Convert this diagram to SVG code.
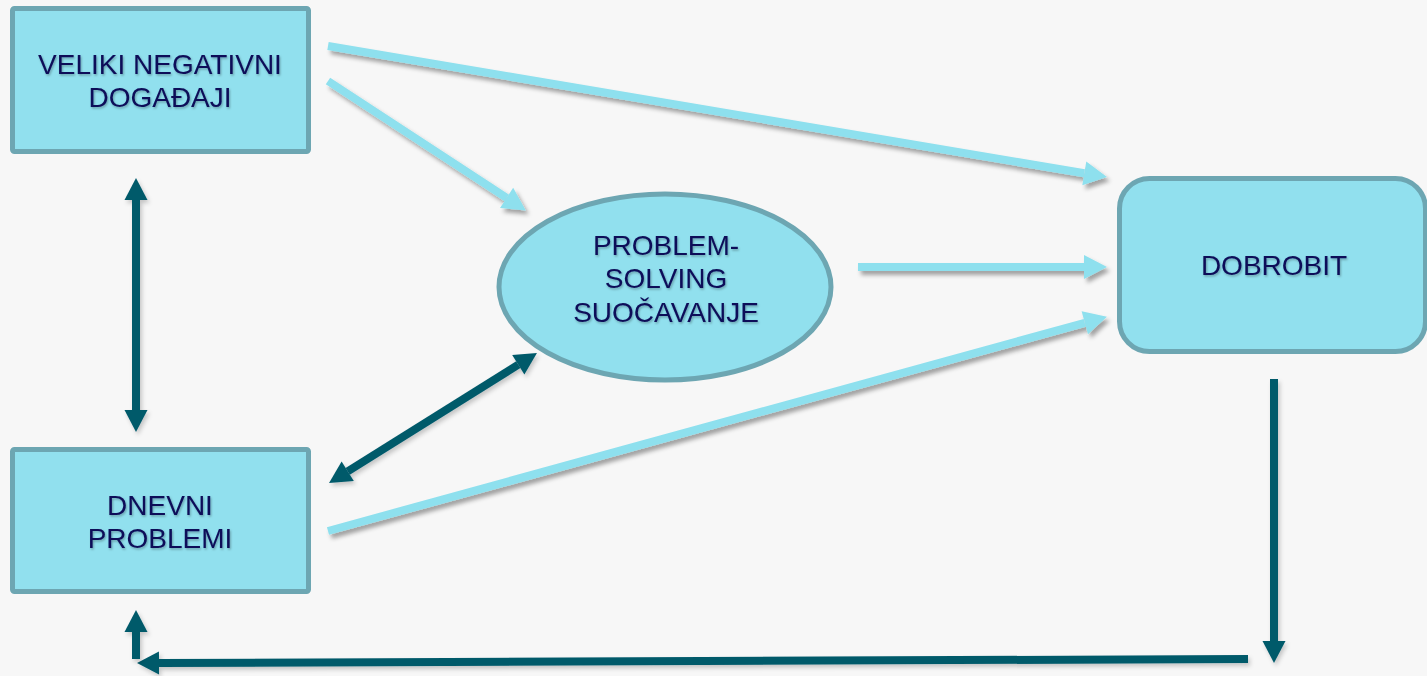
<svg xmlns="http://www.w3.org/2000/svg" width="1427" height="676" viewBox="0 0 1427 676">
<style>
.node{fill:#91E0EE;stroke:#6DA6B2;stroke-width:5}
.lbl{font-family:"Liberation Sans",Arial,sans-serif;font-size:28px;fill:#0B0B58;text-anchor:middle;filter:url(#tsh)}
.light{stroke:#8EE0EE;stroke-width:8;fill:none;filter:url(#sh);marker-end:url(#ahL)}
.dark{stroke:#025A6B;stroke-width:8;fill:none;filter:url(#shd)}
</style>
<defs>
<filter id="sh" filterUnits="userSpaceOnUse" x="0" y="0" width="1427" height="676">
<feDropShadow dx="3" dy="4" stdDeviation="2" flood-color="#000" flood-opacity="0.35"/>
</filter>
<filter id="shd" filterUnits="userSpaceOnUse" x="0" y="0" width="1427" height="676">
<feDropShadow dx="2" dy="3" stdDeviation="2" flood-color="#000" flood-opacity="0.2"/>
</filter>
<filter id="tsh" filterUnits="userSpaceOnUse" x="0" y="0" width="1427" height="676">
<feDropShadow dx="1" dy="1.5" stdDeviation="1" flood-color="#000" flood-opacity="0.3"/>
</filter>
<marker id="ahL" markerUnits="userSpaceOnUse" markerWidth="24" markerHeight="24" refX="0" refY="12" orient="auto" overflow="visible">
<path d="M0,0 L23,12 L0,24 z" fill="#8EE0EE"/>
</marker>
<marker id="ahD" markerUnits="userSpaceOnUse" markerWidth="24" markerHeight="24" refX="0" refY="12" orient="auto-start-reverse" overflow="visible">
<path d="M0,0.5 L22,12 L0,23.5 z" fill="#025A6B"/>
</marker>
</defs>
<rect width="1427" height="676" fill="#F7F7F7"/>
<g id="connectors">
<line class="light" x1="328" y1="46" x2="1084.3" y2="173.3"/>
<line class="light" x1="328" y1="81" x2="506.6" y2="197.9"/>
<line class="light" x1="858" y1="267" x2="1084" y2="267"/>
<line class="light" x1="328" y1="531" x2="1084.8" y2="322.8"/>
<line class="dark" x1="136" y1="200" x2="136" y2="410" marker-start="url(#ahD)" marker-end="url(#ahD)"/>
<line class="dark" x1="347.7" y1="471.3" x2="518.3" y2="364.7" marker-start="url(#ahD)" marker-end="url(#ahD)"/>
<line class="dark" x1="1274" y1="379" x2="1274" y2="641" marker-end="url(#ahD)"/>
<line class="dark" x1="1248" y1="659" x2="159" y2="663" marker-end="url(#ahD)"/>
<line class="dark" x1="136" y1="659" x2="136" y2="632" marker-end="url(#ahD)"/>
</g>
<g id="veliki">
<rect class="node" x="12.5" y="8.5" width="296" height="143" rx="2"/>
<text class="lbl" x="160" y="74">VELIKI NEGATIVNI</text>
<text class="lbl" x="160" y="107">DOGAĐAJI</text>
</g>
<g id="dnevni">
<rect class="node" x="12.5" y="449.5" width="296" height="142" rx="2"/>
<text class="lbl" x="160" y="515">DNEVNI</text>
<text class="lbl" x="160" y="548">PROBLEMI</text>
</g>
<g id="problem">
<ellipse class="node" cx="665" cy="287" rx="166" ry="93"/>
<text class="lbl" x="666" y="255">PROBLEM-</text>
<text class="lbl" x="666" y="288">SOLVING</text>
<text class="lbl" x="666" y="322">SUOČAVANJE</text>
</g>
<g id="dobrobit">
<rect class="node" x="1119.5" y="178.5" width="306" height="173" rx="30"/>
<text class="lbl" x="1274" y="275">DOBROBIT</text>
</g>
</svg>
